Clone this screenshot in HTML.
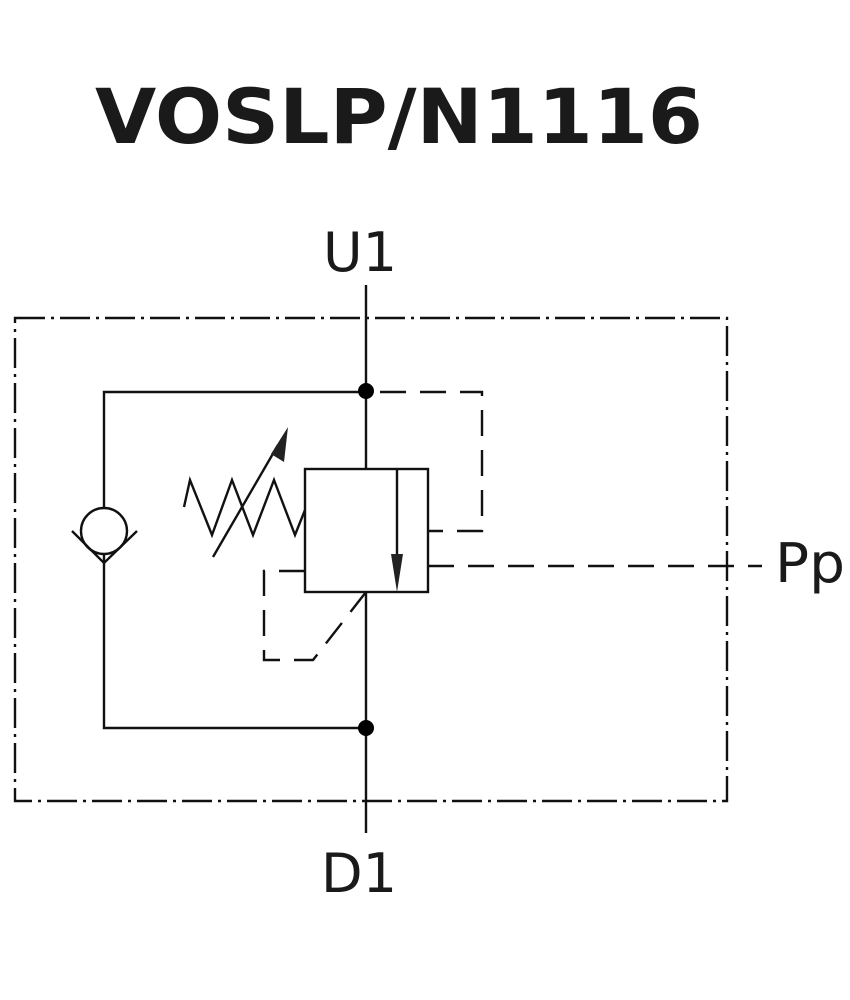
<!DOCTYPE html>
<html><head><style>
html,body{margin:0;padding:0;background:#fff}
svg{display:block}
</style></head><body>
<svg width="850" height="1000" viewBox="0 0 850 1000" xmlns="http://www.w3.org/2000/svg">
<text x="399" y="143" text-anchor="middle" font-family="'DejaVu Sans','Liberation Sans',sans-serif" font-weight="bold" font-size="76" fill="#1a1a1a" textLength="608" lengthAdjust="spacingAndGlyphs">VOSLP/N1116</text>
<g font-family="'DejaVu Sans','Liberation Sans',sans-serif" font-size="54" fill="#1a1a1a">
<text x="360" y="271" text-anchor="middle" textLength="74" lengthAdjust="spacingAndGlyphs">U1</text>
<text x="359" y="892" text-anchor="middle" textLength="76" lengthAdjust="spacingAndGlyphs">D1</text>
<text x="775" y="582" textLength="70" lengthAdjust="spacingAndGlyphs">Pp</text>
</g>
<g fill="none" stroke="#111" stroke-width="2.4">
<rect x="15" y="318" width="712" height="483" stroke-dasharray="30 6 3 6"/>
<line x1="366" y1="285" x2="366" y2="469"/>
<line x1="366" y1="592" x2="366" y2="833"/>
<polyline points="366,392 104,392 104,508"/>
<polyline points="104,554 104,728 366,728"/>
<circle cx="104" cy="531" r="23"/>
<polyline points="72,531 104,563 137,531"/>
<rect x="305" y="469" width="123" height="123"/>
<line x1="397" y1="469" x2="397" y2="560"/>
<polyline points="184,507 190,480 212,535 232,480 253,535 274,480 295,535 305,510"/>
<line x1="213" y1="557" x2="278" y2="445"/>
<g stroke-dasharray="26 14">
<polyline points="380,392 482,392 482,531 428,531"/>
<line x1="428" y1="566" x2="762" y2="566"/>
<polyline points="305,571 264,571 264,660 313,660 366,592"/>
</g>
</g>
<polygon points="288,427 284,462 271,454" fill="#222"/>
<polygon points="397,592 391,554 403,554" fill="#222"/>
<circle cx="366" cy="391" r="8" fill="#000"/>
<circle cx="366" cy="728" r="8" fill="#000"/>
</svg>
</body></html>
